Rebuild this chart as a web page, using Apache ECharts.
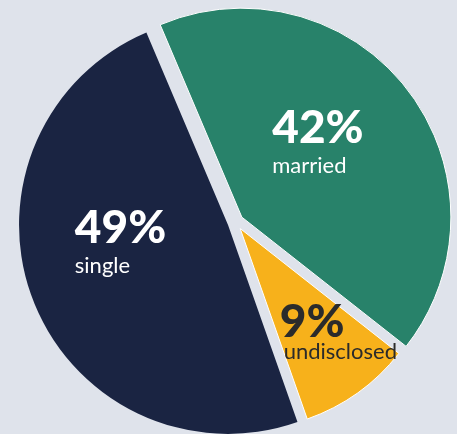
<!DOCTYPE html>
<html>
<head>
<meta charset="utf-8">
<script src="https://cdn.jsdelivr.net/npm/echarts@6/dist/echarts.min.js"></script>
<style>
    html, body { margin: 0; padding: 0; background: #dfe3eb; }
    #main { width: 457px; height: 434px; }
</style>
</head>
<body>
<div id="main"></div>
<script>
const categories = ['married', 'undisclosed', 'single'];
const shares = [42, 9, 49];

// slice colours, label colours and label nudges from the slice's inside point
const colors = ['#28826a', '#f7b11b', '#1a2442'];
const textColors = ['#ffffff', '#2b2b2b', '#ffffff'];
const labelShift = [[-55, -48], [-21, -15], [-53, -60]];

const myChart = echarts.init(document.getElementById('main'));

// the small slice is drawn a bit shorter than the other two, so it sits in
// its own series; slices that belong to the other series are left see-through
function buildData(visible) {
    let arr = [];
    for (let i = 0; i < categories.length; i++) {
        let show = visible.indexOf(i) >= 0;
        arr.push({
            name: categories[i],
            value: shares[i],
            selected: true,
            itemStyle: show ? {
                color: colors[i],
                borderColor: i === 2 ? colors[i] : '#ffffff',
                borderWidth: i === 2 ? 0 : 1
            } : { color: 'transparent', borderWidth: 0 },
            label: { show: show, color: textColors[i] }
        });
    }
    return arr;
}

const baseSeries = {
    type: 'pie',
    center: [235.5, 222],
    startAngle: 113,
    clockwise: true,
    selectedMode: 'multiple',
    selectedOffset: 8,
    label: {
        position: 'inside',
        formatter: (p) => {
            // the small slice has its name set tighter under the number
            let s = p.dataIndex === 1 ? 'u' : 'n';
            return '{p|' + p.value + '%}\n{' + s + '|' + p.name + '}';
        },
        rich: {
            p: { fontFamily: 'Lato', fontWeight: 900, fontSize: 46, lineHeight: 48 },
            n: { fontFamily: 'Lato', fontSize: 22, lineHeight: 28 },
            u: { fontFamily: 'Lato', fontSize: 22, lineHeight: 12, padding: [0, 0, 0, 4] }
        }
    },
    labelLine: { show: false },
    labelLayout: (params) => ({
        dx: labelShift[params.dataIndex][0],
        dy: labelShift[params.dataIndex][1],
        align: 'left',
        verticalAlign: 'top'
    })
};

const option = {
    backgroundColor: '#dfe3eb',
    animation: false,
    series: [
        Object.assign({}, baseSeries, { radius: 209, data: buildData([0, 2]) }),
        Object.assign({}, baseSeries, { radius: 202, data: buildData([1]) })
    ]
};
myChart.setOption(option);
</script>
</body>
</html>
